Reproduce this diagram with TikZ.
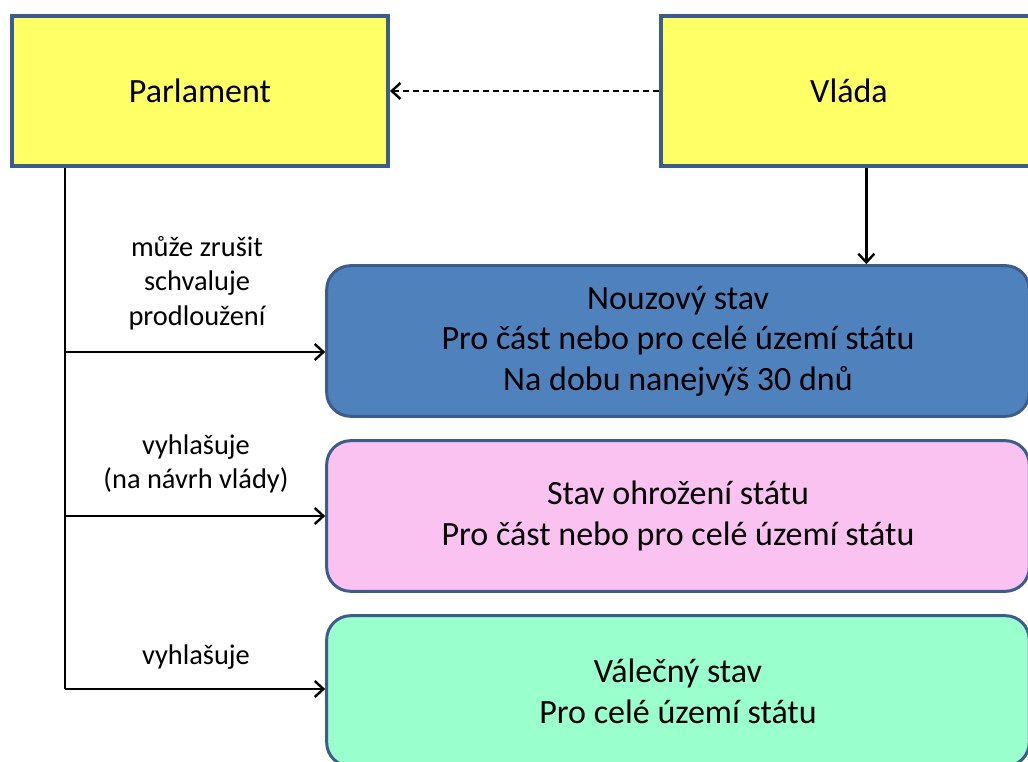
\documentclass[tikz,border=0pt]{standalone}
\usepackage{fontspec}
\setmainfont{Carlito}
\usetikzlibrary{arrows.meta}
\definecolor{boxline}{RGB}{60,92,138}
\definecolor{organfill}{RGB}{255,255,102}
\definecolor{nouzfill}{RGB}{79,129,189}
\definecolor{ohrozfill}{RGB}{249,194,240}
\definecolor{valfill}{RGB}{153,255,204}
\begin{document}
\begin{tikzpicture}[x=0.75pt,y=-0.75pt,
    organ/.style={draw=boxline,line width=3pt,fill=organfill,minimum width=282pt,minimum height=113pt,font=\fontsize{25.5}{30}\selectfont},
    stavbox/.style={draw=boxline,line width=2.25pt,rounded corners=18pt,minimum width=527pt,minimum height=113pt,align=center,font=\fontsize{25.5}{30.5}\selectfont},
    popis/.style={align=center,font=\fontsize{21.3}{26}\selectfont},
    spoj/.style={line width=1.8pt},
    sipka/.style={spoj,-{Straight Barb[length=6.5pt,width=12pt]}}]
  \useasboundingbox (0,0) rectangle (1028,762);
  \clip (0,0) rectangle (1028,762);
  \node[organ] (parlament) at (200,91) {Parlament};
  \node[organ] (vlada) at (849,91) {Vláda};
  \node[stavbox,fill=nouzfill] (nouzovy) at (678,341) {Nouzový stav\\Pro část nebo pro celé území státu\\Na dobu nanejvýš 30 dnů};
  \node[stavbox,fill=ohrozfill] (ohrozeni) at (678,516) {Stav ohrožení státu\\Pro část nebo pro celé území státu};
  \node[stavbox,fill=valfill] (valecny) at (678,691) {Válečný stav\\Pro celé území státu};
  \node[popis] (zrusit) at (197,283) {může zrušit\\schvaluje\\prodloužení};
  \node[popis] (navrh) at (196,464) {vyhlašuje\\(na návrh vlády)};
  \node[popis] (vyhlas) at (196,657) {vyhlašuje};
  \coordinate (k1) at (65,352);
  \coordinate (k2) at (65,516);
  \coordinate (k3) at (65,689);
  \draw[spoj] (parlament.south -| k3) -- (k3);
  \foreach \k/\cil in {k1/nouzovy,k2/ohrozeni,k3/valecny}
    \draw[sipka] (\k) -- (\k -| \cil.west);
  \draw[sipka,dash pattern=on 4.5pt off 3pt] (vlada.west) -- (parlament.east);
  \draw[sipka] ([xshift=13pt]vlada.south) -- ([xshift=13pt]vlada.south |- nouzovy.north);
\end{tikzpicture}
\end{document}
